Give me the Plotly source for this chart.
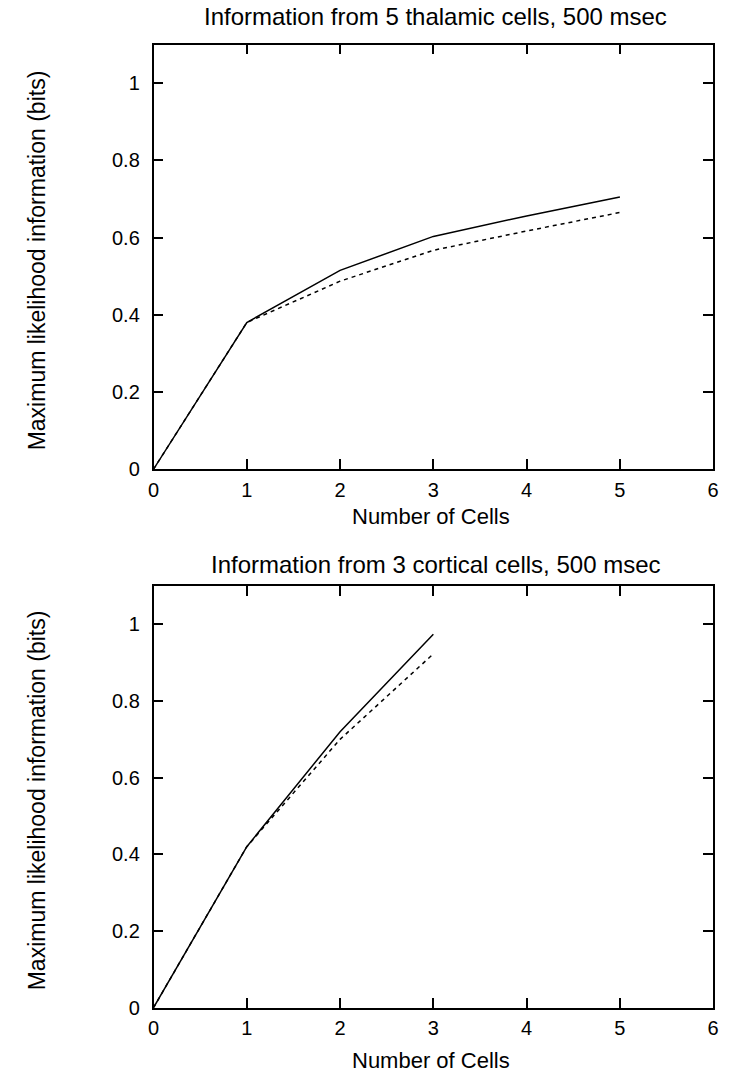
import plotly.graph_objects as go

W, H = 729, 1084

cells_top = [0, 1, 2, 3, 4, 5]
thal_solid = [0, 0.38, 0.515, 0.603, 0.656, 0.705]
thal_dashed = [0, 0.38, 0.487, 0.567, 0.617, 0.665]

cells_bot = [0, 1, 2, 3]
cort_solid = [0, 0.42, 0.72, 0.974]
cort_dashed = [0, 0.42, 0.70, 0.923]

x_ticks = [0, 1, 2, 3, 4, 5, 6]
y_ticks = [0, 0.2, 0.4, 0.6, 0.8, 1]
y_ticktext = ["0", "0.2", "0.4", "0.6", "0.8", "1"]

titles = ["Information from 5 thalamic cells, 500 msec",
          "Information from 3 cortical cells, 500 msec"]
xlabel = "Number of Cells"
ylabel = "Maximum likelihood information (bits)"

FONT = "Liberation Sans, Arial, Helvetica, sans-serif"

def py(px):
    return 1 - px / H

def pxx(px):
    return px / W

fig = go.Figure()

line_solid = dict(color="black", width=1.5)
line_dash = dict(color="black", width=1.5, dash="4px,4px")

fig.add_trace(go.Scatter(x=cells_top, y=thal_dashed, mode="lines", line=line_dash,
                         xaxis="x", yaxis="y", showlegend=False))
fig.add_trace(go.Scatter(x=cells_top, y=thal_solid, mode="lines", line=line_solid,
                         xaxis="x", yaxis="y", showlegend=False))
fig.add_trace(go.Scatter(x=cells_bot, y=cort_dashed, mode="lines", line=line_dash,
                         xaxis="x2", yaxis="y2", showlegend=False))
fig.add_trace(go.Scatter(x=cells_bot, y=cort_solid, mode="lines", line=line_solid,
                         xaxis="x2", yaxis="y2", showlegend=False))

x_left, x_right = 150, 719
panels = [(45, 474), (592, 1018)]

common_x = dict(range=[0, 6], tickvals=x_ticks, ticks="inside", ticklen=10, tickwidth=1.5,
                tickcolor="black", showline=True, linecolor="black", linewidth=1.5,
                mirror="ticks", showgrid=False, zeroline=False, ticklabelstandoff=2,
                tickfont=dict(family=FONT, size=20, color="black"))
common_y = dict(range=[0, 1.1], tickvals=y_ticks, ticktext=y_ticktext, ticks="inside",
                ticklen=10, tickwidth=1.5, tickcolor="black", showline=True,
                linecolor="black", linewidth=1.5, mirror="ticks", showgrid=False,
                zeroline=False, ticklabelstandoff=8,
                tickfont=dict(family=FONT, size=20, color="black"))

fig.update_layout(
    width=W, height=H,
    margin=dict(l=0, r=0, t=0, b=0),
    paper_bgcolor="white", plot_bgcolor="white",
    xaxis=dict(domain=[pxx(x_left), pxx(x_right)], anchor="y", **common_x),
    yaxis=dict(domain=[py(panels[0][1]), py(panels[0][0])], anchor="x", **common_y),
    xaxis2=dict(domain=[pxx(x_left), pxx(x_right)], anchor="y2", **common_x),
    yaxis2=dict(domain=[py(panels[1][1]), py(panels[1][0])], anchor="x2", **common_y),
)

annots = []
title_y = [17, 570]
xlab_y = [522, 1071]
for i, (top, bot) in enumerate(panels):
    annots.append(dict(text=titles[i], x=pxx(437), y=py(title_y[i]),
                       xref="paper", yref="paper", showarrow=False,
                       xanchor="center", yanchor="middle",
                       font=dict(family=FONT, size=24, color="black")))
    annots.append(dict(text=xlabel, x=pxx(432), y=py(xlab_y[i]),
                       xref="paper", yref="paper", showarrow=False,
                       xanchor="center", yanchor="middle",
                       font=dict(family=FONT, size=22, color="black")))
    annots.append(dict(text=ylabel, x=pxx(31), y=py((top + bot) / 2 + 3),
                       xref="paper", yref="paper", showarrow=False, textangle=-90,
                       xanchor="center", yanchor="middle",
                       font=dict(family=FONT, size=23, color="black")))
fig.update_layout(annotations=annots)

fig.write_html("out.html")
